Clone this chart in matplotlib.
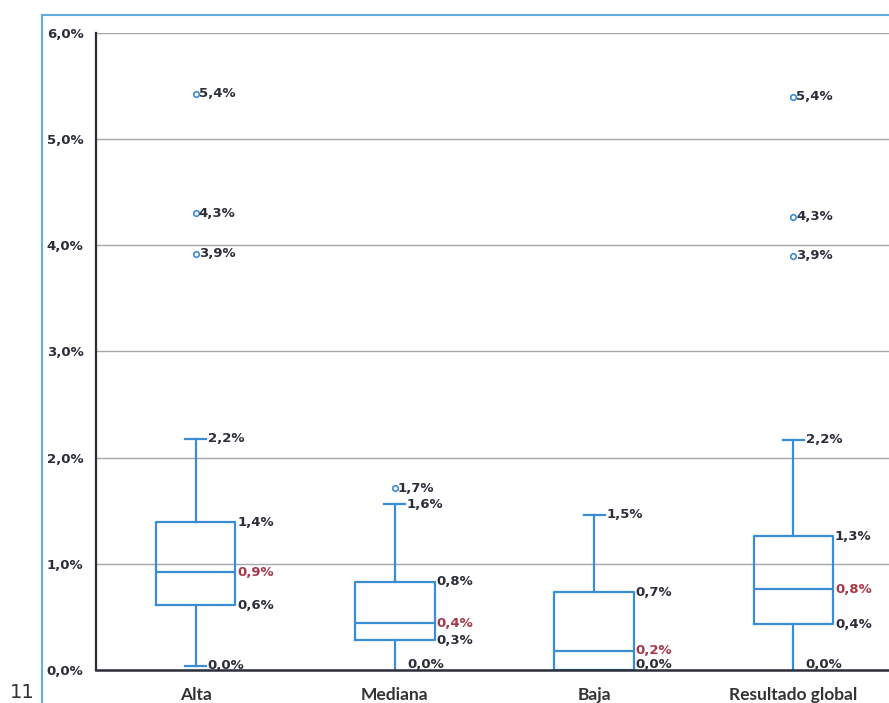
import matplotlib
matplotlib.use("Agg")
import matplotlib.pyplot as plt
from matplotlib.patches import Rectangle
from matplotlib.ticker import FuncFormatter

# Box plot statistics per segment (percent)
categories = ["Alta", "Mediana", "Baja", "Resultado global"]
whislo = [0.04, 0.0, 0.0, 0.0]
q1 = [0.61, 0.28, 0.0, 0.43]
med = [0.92, 0.44, 0.18, 0.76]
q3 = [1.39, 0.83, 0.73, 1.26]
whishi = [2.18, 1.56, 1.46, 2.17]
fliers = [[3.92, 4.30, 5.43], [1.71], [], [3.90, 4.27, 5.40]]
yticks = [0, 1, 2, 3, 4, 5, 6]

blue = "#3a8dd4"
red = "#a83848"
dark = "#2b2d3a"
box_w = 0.4
cap_w = 0.105


def pct(v):
    return f"{v:.1f}%".replace(".", ",")


fig = plt.figure(figsize=(8.89, 7.03), dpi=100)
ax = fig.add_axes([96 / 889, 33 / 703, 797 / 889, 637 / 703])

stats = []
for i, c in enumerate(categories):
    stats.append(dict(label=c, whislo=whislo[i], q1=q1[i], med=med[i],
                      q3=q3[i], whishi=whishi[i], fliers=fliers[i]))

line = dict(color=blue, linewidth=1.6)
parts = ax.bxp(stats, positions=range(len(categories)), widths=box_w,
               capwidths=cap_w, boxprops=line, medianprops=line,
               whiskerprops=line, capprops=line,
               flierprops=dict(marker="o", markerfacecolor="white",
                               markeredgecolor=blue, markersize=4,
                               markeredgewidth=1.2))

# lower caps sitting on the axis line are not shown
for i in range(len(categories)):
    if whislo[i] == 0:
        parts["caps"][2 * i].set_visible(False)

ax.set_xlim(-0.5, len(categories) - 0.5)
ax.set_ylim(0, 6)
ax.set_yticks(yticks)
ax.yaxis.set_major_formatter(FuncFormatter(lambda v, p: pct(v)))
ax.grid(axis="y", color="#a8a8a8", linewidth=1)
ax.set_axisbelow(True)

for s in ["top", "right"]:
    ax.spines[s].set_visible(False)
ax.spines["left"].set_color(dark)
ax.spines["left"].set_linewidth(1.6)
ax.spines["bottom"].set_color(dark)
ax.spines["bottom"].set_linewidth(1.8)
ax.tick_params(length=0)
ax.tick_params(axis="y", pad=9, labelsize=9.5, labelcolor=dark)
ax.tick_params(axis="x", pad=12, labelsize=12.5, labelcolor="#333333")
for t in ax.get_yticklabels():
    t.set_fontweight("bold")
for t in ax.get_xticklabels():
    t.set_fontweight("bold")
    t.set_family("Lato")


def tag(x, v, color=dark, dx=1.2):
    dy = 4 if v == 0 else 0
    ax.annotate(pct(v), xy=(x, v), xytext=(dx, dy),
                textcoords="offset points", ha="left", va="center",
                fontsize=9.5, fontweight="bold", color=color)


for i in range(len(categories)):
    tag(i + cap_w / 2, whishi[i])
    tag(i + box_w / 2, q3[i])
    tag(i + box_w / 2, med[i], color=red)
    tag(i + box_w / 2, q1[i])
    if whislo[i] != q1[i]:
        tag(i + cap_w / 2, whislo[i])
    for f in fliers[i]:
        tag(i, f, dx=2.2)

# outer chart frame
fig.patches.append(Rectangle((42 / 889, -0.1), 1.0, (703 - 15) / 703 + 0.1,
                             transform=fig.transFigure, fill=False,
                             edgecolor="#62aee3", linewidth=1.5))
fig.text(10 / 889, 1 / 703, "11", fontsize=14, color="#333333",
         ha="left", va="bottom")

fig.savefig("out.png", dpi=100)
